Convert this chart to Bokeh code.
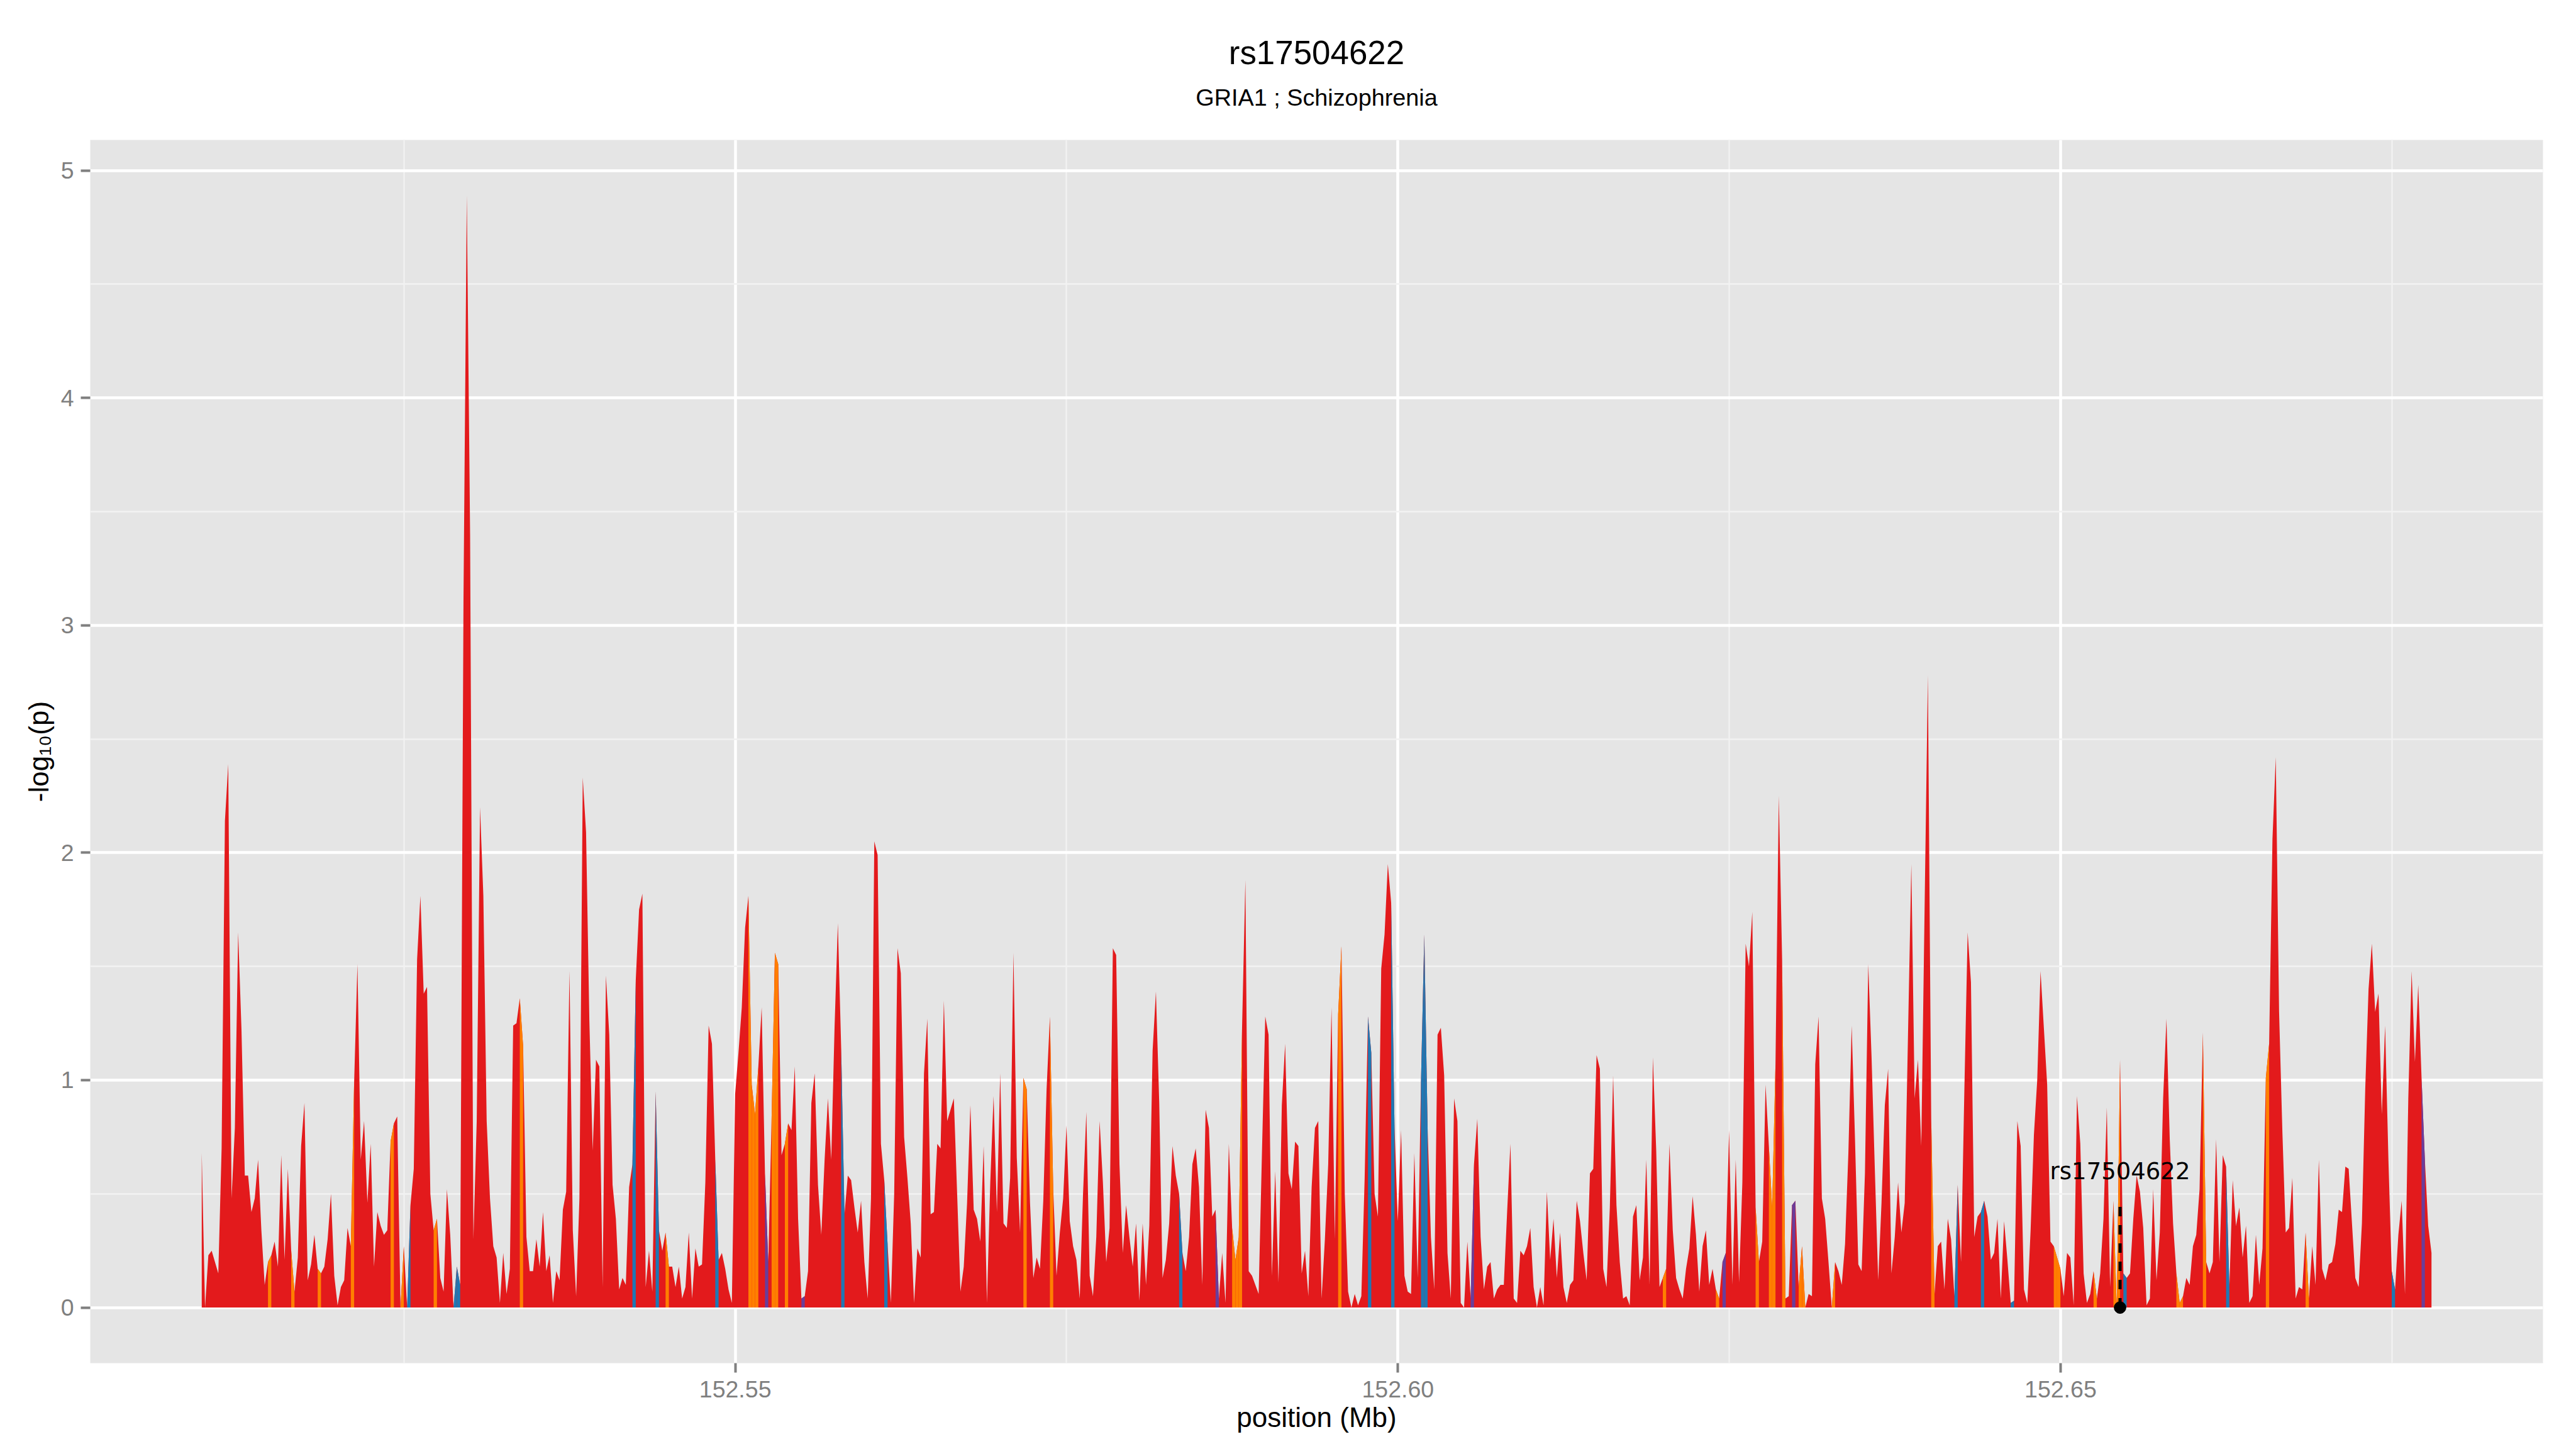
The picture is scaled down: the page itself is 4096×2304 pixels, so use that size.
import numpy as np
from bokeh.plotting import figure
from bokeh.layouts import column
from bokeh.models import Range1d, FixedTicker, NumeralTickFormatter, Label
from bokeh.embed import file_html
from bokeh.resources import INLINE
from bokeh.core.properties import value

# ---------------- data ----------------
title_text = "rs17504622"
subtitle_text = "GRIA1 ; Schizophrenia"
x_axis_label = "position (Mb)"
y_axis_label = "-log\u2081\u2080(p)"

# SNPs lie on a regular 250 bp grid starting here (Mb)
snp_start_mb = 152.50974
snp_step_mb = 0.00025

neglog10p = [
    0.68, 0.0, 0.23, 0.25, 0.2, 0.15, 0.70, 2.14, 2.39, 0.48,
    0.79, 1.65, 1.22, 0.58, 0.58, 0.42, 0.48, 0.65, 0.34, 0.10,
    0.20, 0.23, 0.29, 0.18, 0.67, 0.21, 0.61, 0.25, 0.07, 0.22,
    0.71, 0.90, 0.12, 0.19, 0.32, 0.17, 0.15, 0.18, 0.30, 0.50,
    0.14, 0.01, 0.09, 0.12, 0.35, 0.27, 0.99, 1.51, 0.65, 0.82,
    0.46, 0.72, 0.18, 0.42, 0.36, 0.32, 0.34, 0.73, 0.81, 0.84,
    0.0, 0.27, 0.0, 0.45, 0.61, 1.53, 1.81, 1.38, 1.41, 0.50,
    0.34, 0.39, 0.13, 0.07, 0.52, 0.32, 0.0, 0.18, 0.10, 3.10,
    4.89, 3.40, 0.30, 0.82, 2.20, 1.81, 0.82, 0.48, 0.27, 0.22,
    0.02, 0.24, 0.06, 0.17, 1.24, 1.25, 1.36, 1.15, 0.31, 0.16,
    0.16, 0.30, 0.18, 0.42, 0.16, 0.23, 0.02, 0.16, 0.12, 0.43,
    0.51, 1.48, 0.34, 0.05, 0.48, 2.33, 2.09, 1.26, 0.69, 1.09,
    1.06, 0.09, 1.46, 1.20, 0.54, 0.39, 0.08, 0.13, 0.10, 0.53,
    0.63, 1.44, 1.75, 1.82, 0.09, 0.25, 0.07, 0.95, 0.34, 0.25,
    0.33, 0.18, 0.18, 0.09, 0.18, 0.04, 0.09, 0.33, 0.04, 0.26,
    0.18, 0.19, 0.55, 1.24, 1.16, 0.65, 0.21, 0.24, 0.17, 0.08,
    0.02, 0.94, 1.12, 1.32, 1.67, 1.81, 0.98, 0.85, 1.06, 1.32,
    0.59, 0.20, 0.83, 1.56, 1.51, 0.67, 0.72, 0.81, 0.78, 1.06,
    0.39, 0.04, 0.05, 0.16, 0.90, 1.03, 0.54, 0.32, 0.65, 0.92,
    0.65, 1.23, 1.69, 1.14, 0.41, 0.58, 0.56, 0.44, 0.33, 0.47,
    0.20, 0.04, 0.48, 2.05, 1.99, 0.72, 0.56, 0.28, 0.02, 0.50,
    1.58, 1.47, 0.75, 0.57, 0.37, 0.02, 0.26, 0.22, 1.03, 1.27,
    0.41, 0.42, 0.72, 0.70, 1.35, 0.82, 0.87, 0.92, 0.50, 0.07,
    0.18, 0.46, 0.89, 0.43, 0.39, 0.29, 0.71, 0.02, 0.55, 0.93,
    0.42, 1.03, 0.37, 0.35, 0.57, 1.56, 0.66, 0.33, 1.01, 0.96,
    0.46, 0.13, 0.22, 0.17, 0.47, 0.96, 1.28, 0.52, 0.14, 0.33,
    0.48, 0.80, 0.38, 0.27, 0.21, 0.04, 0.50, 0.86, 0.14, 0.05,
    0.31, 0.82, 0.55, 0.20, 0.35, 1.58, 1.55, 0.63, 0.24, 0.45,
    0.31, 0.18, 0.37, 0.03, 0.37, 0.10, 0.36, 1.13, 1.39, 0.90,
    0.13, 0.21, 0.37, 0.71, 0.58, 0.50, 0.24, 0.16, 0.31, 0.63,
    0.70, 0.53, 0.10, 0.87, 0.79, 0.40, 0.43, 0.04, 0.24, 0.02,
    0.72, 0.35, 0.21, 0.31, 1.23, 1.88, 0.16, 0.14, 0.10, 0.06,
    0.68, 1.28, 1.20, 0.14, 0.60, 0.11, 0.89, 1.16, 0.59, 0.52,
    0.73, 0.71, 0.15, 0.25, 0.05, 0.53, 0.79, 0.82, 0.04, 0.30,
    0.63, 1.32, 0.30, 1.29, 1.59, 0.50, 0.07, 0.0, 0.06, 0.01,
    0.05, 0.57, 1.28, 1.12, 0.50, 0.40, 1.49, 1.64, 1.95, 1.78,
    0.80, 0.38, 0.78, 0.14, 0.07, 0.06, 0.68, 0.13, 0.99, 1.64,
    0.79, 0.31, 0.08, 1.20, 1.23, 1.02, 0.24, 0.04, 0.92, 0.82,
    0.02, 0.0, 0.29, 0.04, 0.63, 0.83, 0.31, 0.08, 0.18, 0.20,
    0.04, 0.08, 0.10, 0.10, 0.42, 0.72, 0.04, 0.02, 0.25, 0.23,
    0.27, 0.35, 0.09, 0.0, 0.09, 0.01, 0.51, 0.21, 0.39, 0.13,
    0.33, 0.09, 0.02, 0.10, 0.12, 0.47, 0.38, 0.24, 0.12, 0.59,
    0.61, 1.11, 1.05, 0.17, 0.09, 0.44, 1.02, 0.45, 0.20, 0.04,
    0.05, 0.01, 0.40, 0.45, 0.12, 0.22, 0.65, 0.10, 1.10, 0.69,
    0.09, 0.13, 0.17, 0.72, 0.34, 0.13, 0.08, 0.04, 0.17, 0.26,
    0.49, 0.32, 0.07, 0.27, 0.34, 0.10, 0.17, 0.08, 0.04, 0.20,
    0.24, 0.78, 0.10, 0.65, 0.11, 0.55, 1.60, 1.50, 1.74, 0.44,
    0.20, 0.29, 0.98, 0.71, 0.44, 1.07, 2.25, 1.53, 0.04, 0.05,
    0.45, 0.47, 0.09, 0.27, 0.0, 0.06, 0.05, 1.07, 1.28, 0.48,
    0.39, 0.20, 0.0, 0.20, 0.16, 0.10, 0.28, 0.68, 1.24, 0.74,
    0.19, 0.16, 0.59, 1.51, 1.10, 0.60, 0.12, 0.46, 0.89, 1.05,
    0.15, 0.31, 0.55, 0.33, 0.46, 1.20, 1.95, 0.92, 1.09, 0.71,
    1.75, 2.78, 0.83, 0.06, 0.27, 0.29, 0.08, 0.39, 0.30, 0.05,
    0.54, 0.20, 0.95, 1.65, 1.43, 0.31, 0.40, 0.42, 0.47, 0.40,
    0.21, 0.24, 0.39, 0.04, 0.38, 0.21, 0.02, 0.03, 0.82, 0.71,
    0.08, 0.02, 0.34, 0.76, 1.00, 1.48, 1.23, 0.98, 0.29, 0.27,
    0.22, 0.17, 0.05, 0.24, 0.22, 0.01, 0.93, 0.72, 0.15, 0.02,
    0.06, 0.16, 0.04, 0.15, 0.39, 0.88, 0.09, 0.47, 0.0, 1.09,
    0.15, 0.13, 0.15, 0.39, 0.58, 0.51, 0.35, 0.01, 0.04, 0.52,
    0.12, 0.33, 0.92, 1.27, 0.74, 0.37, 0.15, 0.02, 0.05, 0.13,
    0.10, 0.27, 0.32, 0.52, 1.21, 0.20, 0.15, 0.20, 0.74, 0.20,
    0.67, 0.62, 0.09, 0.56, 0.36, 0.44, 0.22, 0.36, 0.02, 0.05,
    0.32, 0.10, 0.26, 1.01, 1.16, 2.06, 2.42, 1.30, 0.77, 0.33,
    0.35, 0.57, 0.04, 0.09, 0.08, 0.33, 0.04, 0.27, 0.10, 0.65,
    0.17, 0.12, 0.19, 0.20, 0.28, 0.43, 0.42, 0.62, 0.61, 0.37,
    0.13, 0.09, 0.37, 0.96, 1.40, 1.60, 1.30, 1.38, 0.85, 1.24,
    0.65, 0.16, 0.08, 0.32, 0.47, 0.06, 0.92, 1.48, 1.08, 1.42,
    1.01, 0.65, 0.36, 0.24,
]

# interval categories (index of the SNP that starts the interval); all others are red
orange_intervals = [20, 27, 35, 45, 57, 60, 70, 96, 140, 165, 166, 167, 172, 173, 176,
                    248, 256, 311, 312, 313, 343, 441, 457, 469, 473, 474, 477, 482, 483,
                    492, 522, 559, 560, 571, 577, 578, 596, 597, 604, 623, 635]
blue_intervals = [62, 76, 77, 130, 137, 155, 193, 206, 295, 352, 359, 368, 369, 529,
                  537, 546, 580, 611, 661]
purple_intervals = [170, 181, 306, 383, 459, 480, 670]

lead_snp_index = 579
lead_snp_label = "rs17504622"
lead_segment_top = 0.48
lead_label_y = 0.60

x_major_ticks = [152.55, 152.60, 152.65]
x_minor_ticks = [152.525, 152.575, 152.625, 152.675]
y_major_ticks = [0, 1, 2, 3, 4, 5]
y_minor_ticks = [0.5, 1.5, 2.5, 3.5, 4.5]

# colours
RED = "#E31A1C"
ORANGE = "#FF7F00"
BLUE = "#1F78B4"
PURPLE = "#6A3D9A"

# ---------------- layout ----------------
W = 4080
TITLE_H = 222          # strip above the panel holding title + subtitle
MAIN_H = 2066
B_LEFT, B_RIGHT, B_BOTTOM = 143, 37, 121
FRAME_W = W - B_LEFT - B_RIGHT
FONT = "Liberation Sans"

vals = np.array(neglog10p, dtype=float)
pos = snp_start_mb + snp_step_mb * np.arange(len(vals))

span = pos[-1] - pos[0]
ymax = vals.max()

# ---- title strip (its frame is aligned with the main panel's frame by the column) ----
tfig = figure(width=W, height=TITLE_H, output_backend="svg", toolbar_location=None,
              x_range=Range1d(0, 1), y_range=Range1d(0, 1),
              x_axis_location=None, y_axis_location=None,
              min_border_left=0, min_border_right=0, min_border_top=0, min_border_bottom=0)
tfig.outline_line_color = None
tfig.background_fill_color = "white"
tfig.border_fill_color = "white"
tfig.grid.grid_line_color = None
# screen units: measured from the bottom-left corner of the strip's frame (text middles)
tfig.add_layout(Label(x=FRAME_W / 2, y=138.7, x_units="screen", y_units="screen",
                      text=title_text, text_align="center", text_baseline="middle",
                      text_font=FONT, text_font_size="52.9px", text_color="black"))
tfig.add_layout(Label(x=FRAME_W / 2, y=67.4, x_units="screen", y_units="screen",
                      text=subtitle_text, text_align="center", text_baseline="middle",
                      text_font=FONT, text_font_size="37.8px", text_color="black"))

# ---- main panel ----
p = figure(width=W, height=MAIN_H, output_backend="svg", toolbar_location=None,
           x_range=Range1d(pos[0] - 0.05 * span, pos[-1] + 0.05 * span),
           y_range=Range1d(-0.05 * ymax, 1.05 * ymax),
           min_border_left=B_LEFT, min_border_right=B_RIGHT,
           min_border_top=0, min_border_bottom=B_BOTTOM)
p.background_fill_color = "#E5E5E5"
p.border_fill_color = "white"
p.outline_line_color = None

p.xaxis.ticker = FixedTicker(ticks=x_major_ticks, minor_ticks=x_minor_ticks)
p.yaxis.ticker = FixedTicker(ticks=y_major_ticks, minor_ticks=y_minor_ticks)
p.xaxis.formatter = NumeralTickFormatter(format="0.00")
p.yaxis.formatter = NumeralTickFormatter(format="0")

for grid in (p.xgrid, p.ygrid):
    grid.grid_line_color = "white"
    grid.grid_line_width = 4.5
    grid.minor_grid_line_color = "#F2F2F2"
    grid.minor_grid_line_width = 2.3

for ax in (p.xaxis, p.yaxis):
    ax.axis_line_color = None
    ax.minor_tick_line_color = None
    ax.major_tick_line_color = "#7F7F7F"
    ax.major_tick_line_width = 4
    ax.major_tick_in = 0
    ax.major_tick_out = 15
    ax.major_label_text_color = "#7F7F7F"
    ax.major_label_text_font = FONT
    ax.major_label_text_font_size = "37.5px"
    ax.axis_label_text_font = FONT
    ax.axis_label_text_font_size = "44px"
    ax.axis_label_text_font_style = "normal"
    ax.axis_label_text_color = "black"

p.xaxis.axis_label = x_axis_label
p.yaxis.axis_label = y_axis_label
p.xaxis.major_label_standoff = 13
p.yaxis.major_label_standoff = 11
p.xaxis.axis_label_standoff = 4
p.yaxis.axis_label_standoff = 8

# main red area
p.varea(x=pos, y1=np.zeros_like(vals), y2=vals, fill_color=RED, fill_alpha=1.0)

# coloured intervals
def interval_patches(idx_list):
    xs, ys = [], []
    for i in idx_list:
        xs.append([pos[i], pos[i], pos[i + 1], pos[i + 1]])
        ys.append([0.0, vals[i], vals[i + 1], 0.0])
    return xs, ys

for idx_list, col in ((orange_intervals, ORANGE), (blue_intervals, BLUE), (purple_intervals, PURPLE)):
    xs, ys = interval_patches(idx_list)
    p.patches(xs, ys, fill_color=col, line_color=None)

# lead SNP marker
x_lead = pos[lead_snp_index]
p.segment(x0=[x_lead], y0=[0.0], x1=[x_lead], y1=[lead_segment_top],
          line_color="black", line_width=5, line_dash="15 14")
p.scatter(x=[x_lead], y=[0.0], size=18.8, color="black")
p.text(x=[x_lead], y=[lead_label_y], text=[lead_snp_label], text_font=value("DejaVu Sans"),
       text_font_size=value("37px"), text_align="center", text_baseline="middle",
       text_color="black")

layout = column(tfig, p, spacing=0)
open("out.html", "w").write(file_html(layout, INLINE))
